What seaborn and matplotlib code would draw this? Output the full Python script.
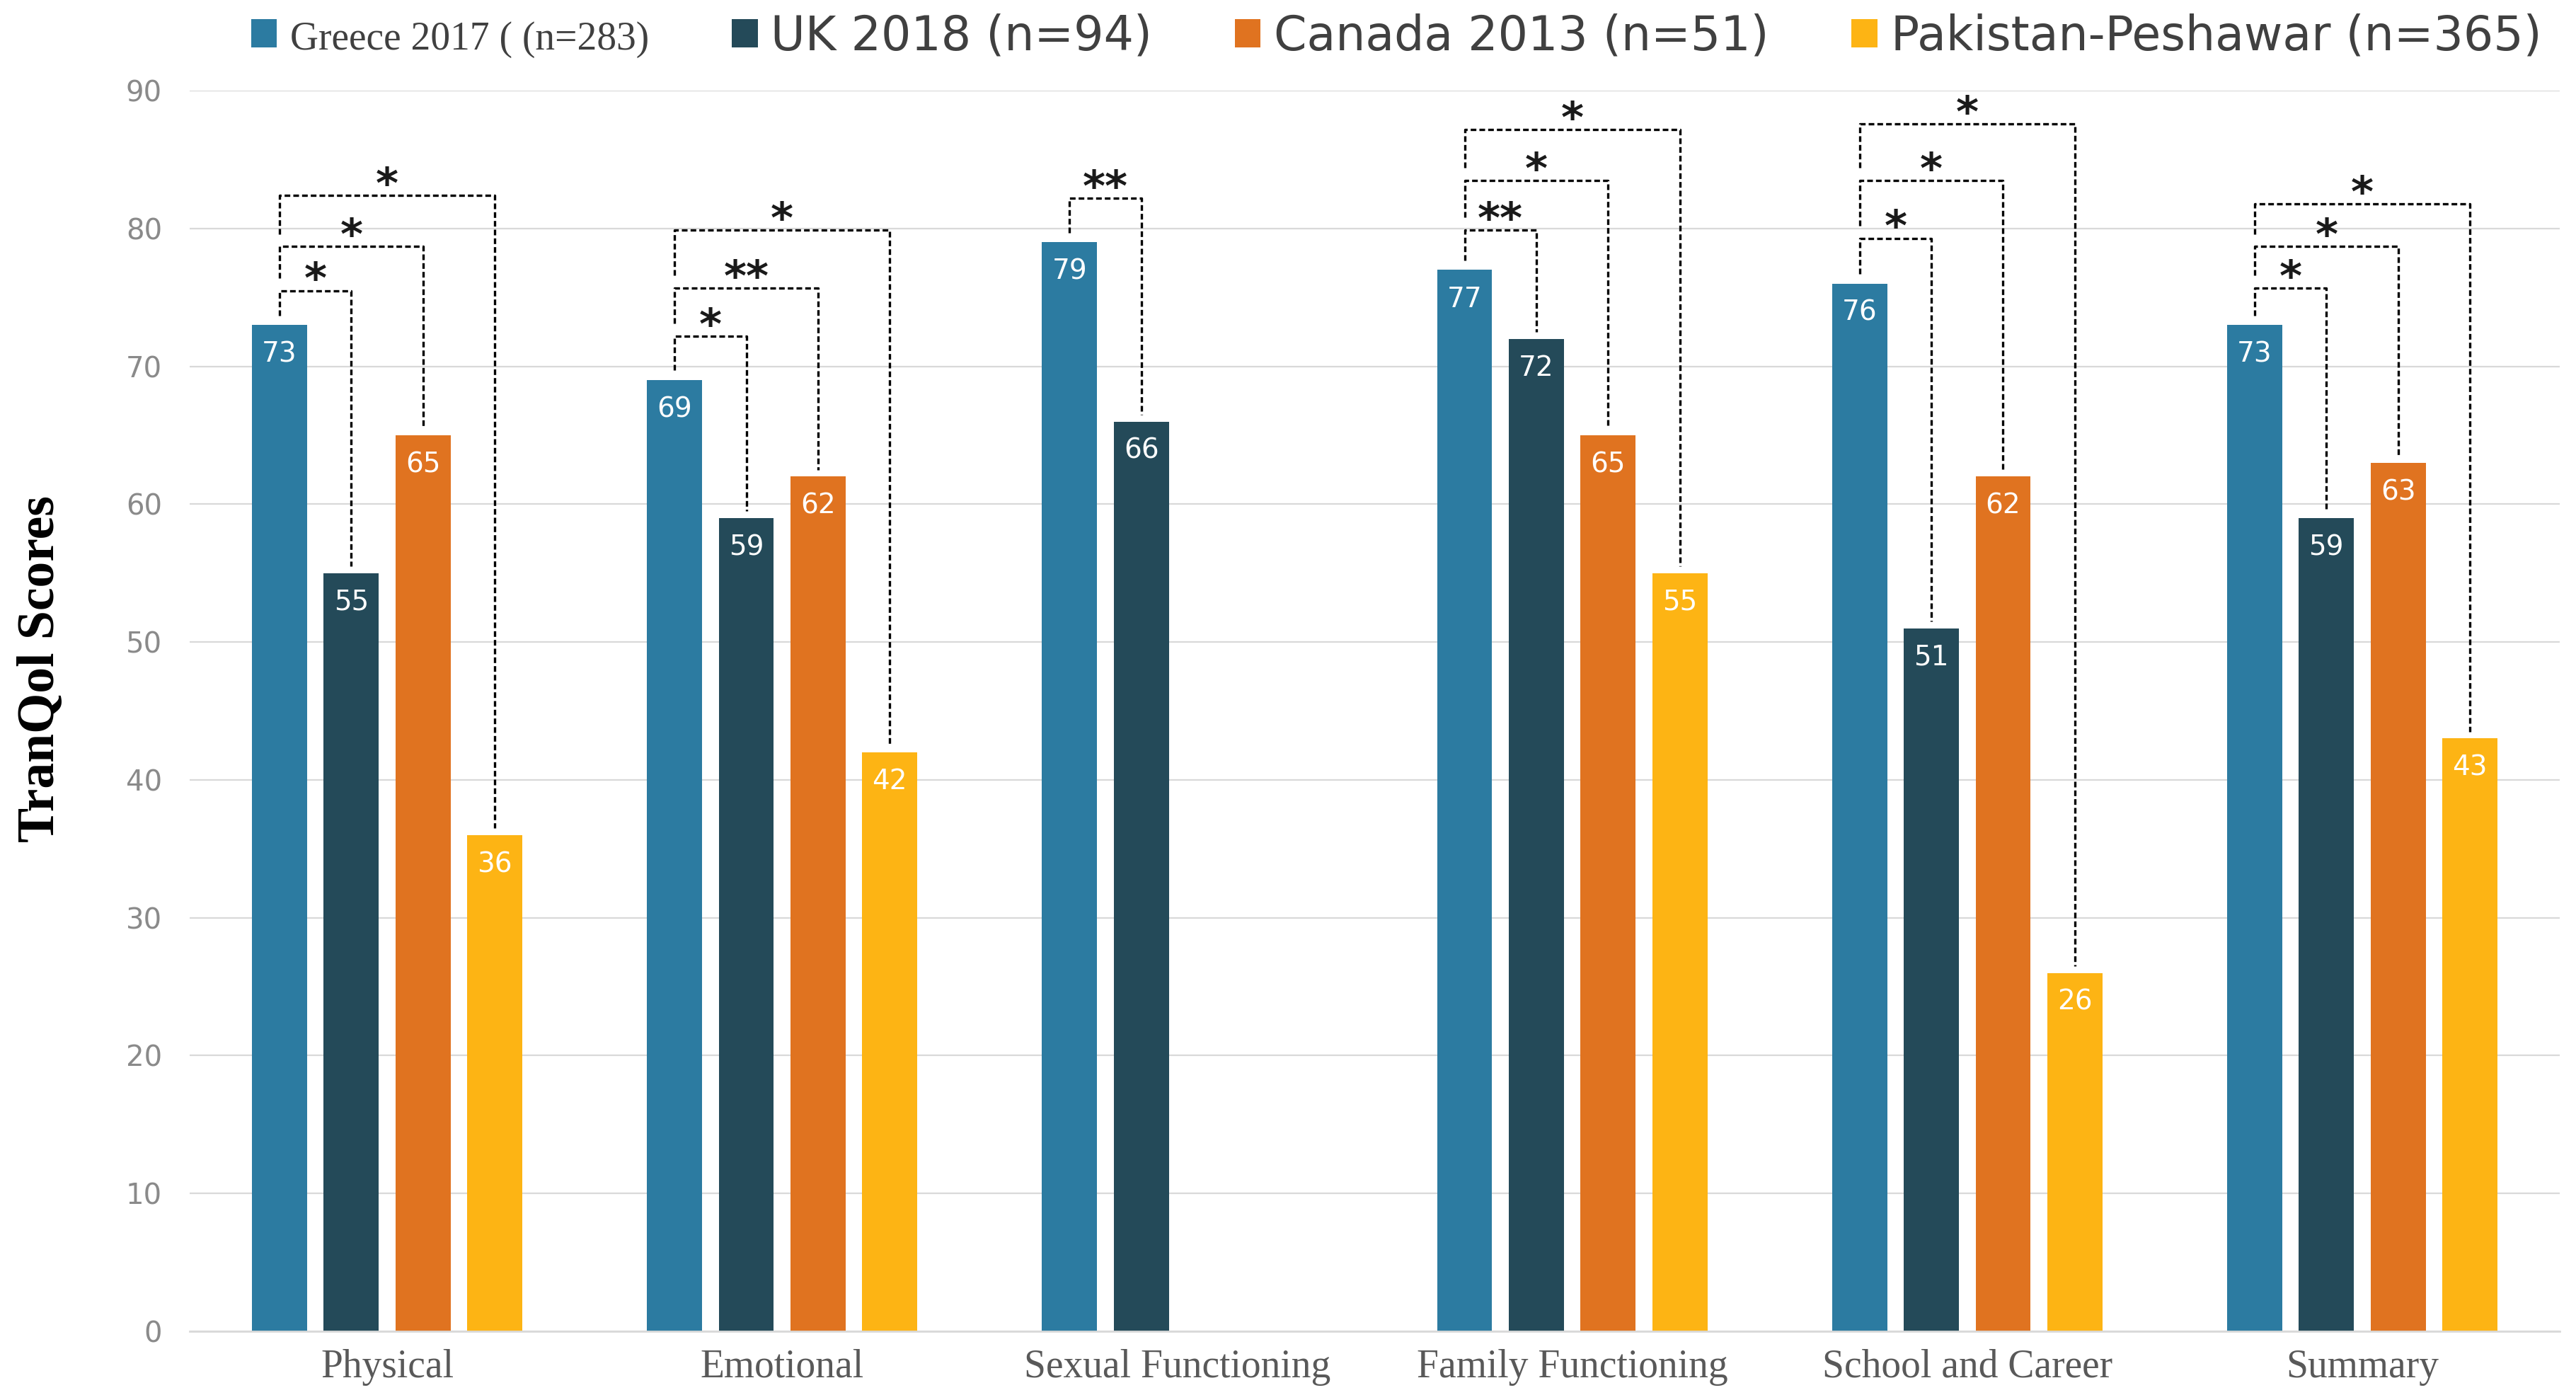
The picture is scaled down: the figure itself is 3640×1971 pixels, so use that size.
import matplotlib
import numpy as np
import pandas as pd
import seaborn as sns
import matplotlib.pyplot as plt

matplotlib.use('Agg')

# TranQol domain scores per study
categories = ["Physical", "Emotional", "Sexual Functioning",
              "Family Functioning", "School and Career", "Summary"]
greece = [73, 69, 79, 77, 76, 73]
uk = [55, 59, 66, 72, 51, 59]
canada = [65, 62, np.nan, 65, 62, 63]
pakistan = [36, 42, np.nan, 55, 26, 43]

series_names = ["Greece 2017 ( (n=283)", "UK 2018 (n=94)",
                "Canada 2013 (n=51)", "Pakistan-Peshawar (n=365)"]
colors = ["#2C7BA1", "#244A59", "#E07320", "#FDB414"]

# significance brackets: (category, compared study, bracket level, label)
# every bracket starts from the Greece bar of its category
comparisons = [
    (0, 1, 75.5, "*"), (0, 2, 78.7, "*"), (0, 3, 82.4, "*"),
    (1, 1, 72.2, "*"), (1, 2, 75.7, "**"), (1, 3, 79.9, "*"),
    (2, 1, 82.2, "**"),
    (3, 1, 79.9, "**"), (3, 2, 83.5, "*"), (3, 3, 87.2, "*"),
    (4, 1, 79.3, "*"), (4, 2, 83.5, "*"), (4, 3, 87.6, "*"),
    (5, 1, 75.7, "*"), (5, 2, 78.7, "*"), (5, 3, 81.8, "*"),
]

rows = []
for name, vals in zip(series_names, [greece, uk, canada, pakistan]):
    for cat, v in zip(categories, vals):
        rows.append({"Domain": cat, "Score": v, "Study": name})
df = pd.DataFrame(rows).dropna()

sns.set_style("white")
plt.rcParams['font.family'] = ['DejaVu Sans']

fig, ax = plt.subplots(figsize=(36.4, 19.71), dpi=100)
fig.subplots_adjust(left=0.0736, right=0.9937, bottom=0.0457, top=0.935)

sns.barplot(data=df, x="Domain", y="Score", hue="Study", order=categories,
            hue_order=series_names, palette=colors, saturation=1,
            width=0.7265, gap=0.232, errorbar=None, linewidth=0, ax=ax)

ax.set_xlim(-0.5, len(categories) - 0.5)
ax.set_ylim(0, 90)
ax.set_yticks(range(0, 91, 10))
ax.yaxis.grid(True, color="#D9D9D9", lw=1.6)
ax.set_axisbelow(True)
for s in ["top", "right", "left"]:
    ax.spines[s].set_visible(False)
ax.spines["bottom"].set_color("#D9D9D9")
ax.spines["bottom"].set_linewidth(2)

ax.tick_params(axis="y", length=0, pad=28, labelsize=29, labelcolor="#8A8A8A")
ax.tick_params(axis="x", length=0, pad=18, labelsize=40, labelcolor="#595959")
for t in ax.get_xticklabels():
    t.set_fontfamily("Liberation Serif")
ax.set_xlabel("")
ax.set_ylabel("TranQol Scores", fontsize=53, fontweight="bold",
              family="Liberation Serif", color="black")
ax.yaxis.set_label_coords(-0.0525, 0.534)

# bar centres and tops, read back from the drawn patches
centers = {}
tops = {}
for j, cont in enumerate(ax.containers):
    for bar in cont:
        h = bar.get_height()
        if np.isnan(h):
            continue
        xc = bar.get_x() + bar.get_width() / 2
        cat = int(round(xc))
        centers[(cat, j)] = xc
        tops[(cat, j)] = h
        ax.annotate(f"{h:.0f}", (xc, h), xytext=(0, -16),
                    textcoords="offset points", ha="center", va="top",
                    color="white", fontsize=28)

# significance brackets
start = {c: tops[(c, 0)] + 0.7 for c in range(len(categories))}
for cat, j, level, lab in comparisons:
    xl = centers[(cat, 0)]
    xr = centers[(cat, j)]
    ax.plot([xl, xl, xr, xr], [start[cat], level, level, tops[(cat, j)] + 0.5],
            color="black", lw=2.4, linestyle=(0, (2.4, 1.3)),
            solid_joinstyle="miter", clip_on=False)
    ax.text((xl + xr) / 2, level - 0.2, lab, ha="center", va="baseline",
            fontsize=44, fontweight="bold", color="#1A1A1A")
    start[cat] = level + 0.9

# legend
handles, labels = ax.get_legend_handles_labels()
ax.get_legend().remove()
leg = fig.legend(handles, labels, loc="center", bbox_to_anchor=(0.542, 0.974),
                 ncol=4, frameon=False, fontsize=48, handlelength=0.55,
                 handleheight=0.55, handletextpad=0.28, columnspacing=1.75)
for i, t in enumerate(leg.get_texts()):
    t.set_color("#404040")
    if i == 0:
        t.set_fontfamily("Liberation Serif")
        t.set_fontsize(40)

plt.savefig("out.png", dpi=100)
